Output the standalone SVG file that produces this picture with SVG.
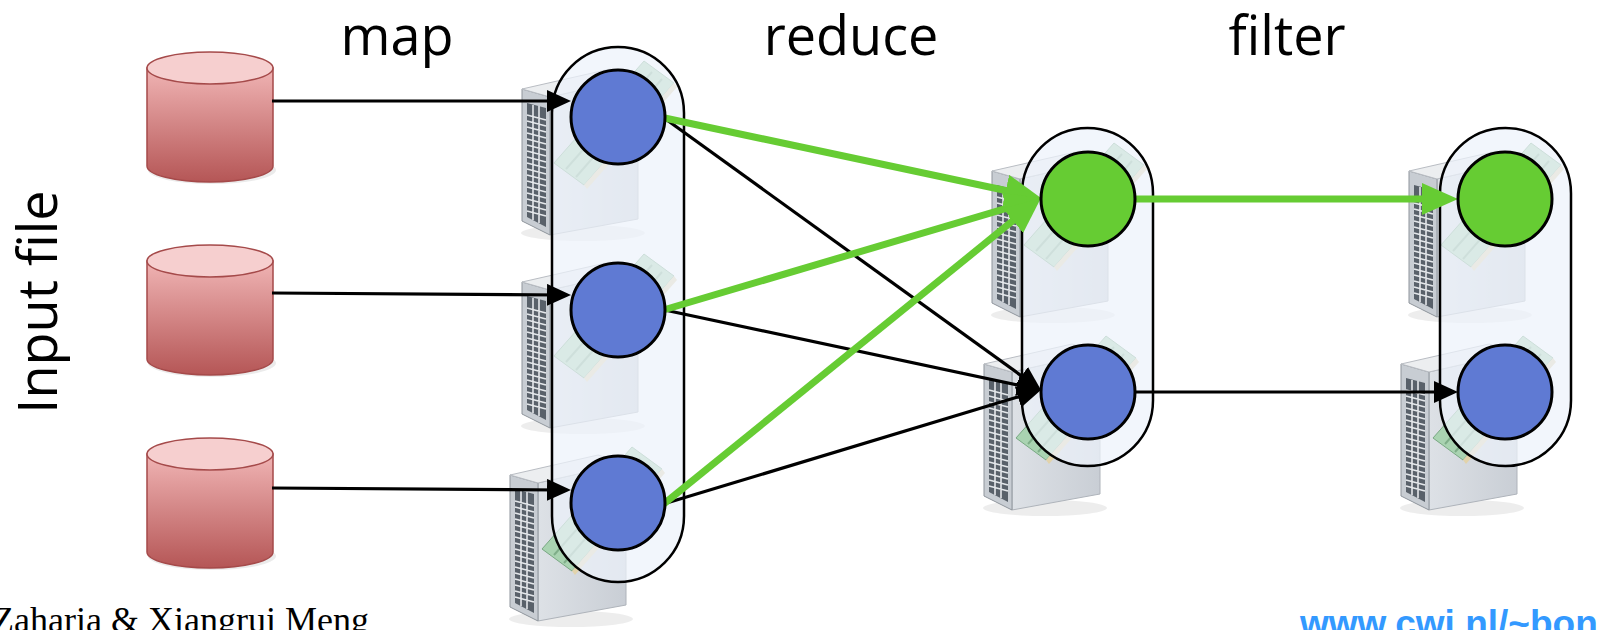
<svg xmlns="http://www.w3.org/2000/svg" xmlns:xlink="http://www.w3.org/1999/xlink" width="1602" height="630" viewBox="0 0 1602 630">
<style>
.lbl{font-family:"Open Sans","Liberation Sans",sans-serif;font-size:54px;fill:#000}
.cont{fill:#edf3fb;fill-opacity:0.72;stroke:#000;stroke-width:2.5}
.blue{fill:#5f7ad3;stroke:#000;stroke-width:3}
.green{fill:#66cc33;stroke:#000;stroke-width:3}
.bl{stroke:#000;stroke-width:3.2;fill:none;marker-end:url(#ab)}
.gl{stroke:#66cc33;stroke-width:7;fill:none;marker-end:url(#ag)}
.cylb{fill:url(#gCyl);stroke:#a54a4a;stroke-width:1.5}
.cylt{fill:#f6cfcf;stroke:#a54a4a;stroke-width:1.5}
</style>
<defs>
<linearGradient id="gCyl" x1="0" y1="0" x2="0" y2="1">
<stop offset="0" stop-color="#f0b4b4"/><stop offset="1" stop-color="#b55656"/>
</linearGradient>
<linearGradient id="gSide" x1="0" y1="0" x2="1" y2="0">
<stop offset="0" stop-color="#dde1e6"/><stop offset="1" stop-color="#c9ced5"/>
</linearGradient>
<marker id="ab" markerUnits="userSpaceOnUse" markerWidth="24" markerHeight="22" refX="14" refY="11" orient="auto"><path d="M0,0L24,11L0,22Z" fill="#000"/></marker>
<marker id="ag" markerUnits="userSpaceOnUse" markerWidth="36" markerHeight="32" refX="22" refY="16" orient="auto"><path d="M0,0L36,16L0,32Z" fill="#66cc33"/></marker>
<g id="srv">
<ellipse cx="-35" cy="116" rx="62" ry="8" fill="#000" opacity="0.07"/>
<polygon points="-68,-20 20,-40 20,102 -68,118" fill="url(#gSide)" stroke="#aeb3ba" stroke-width="1"/>
<polygon points="-96,-28 -68,-20 -68,118 -96,104" fill="#c8cdd3" stroke="#8f959c" stroke-width="1"/>
<polygon points="-91,-14 -72,-9 -72,110 -91,100" fill="#59616a"/>
<path d="M-91,-2l19,5M-91,4l19,5M-91,10l19,5M-91,16l19,5M-91,22l19,5M-91,28l19,5M-91,34l19,5M-91,40l19,5M-91,46l19,5M-91,52l19,5M-91,58l19,5M-91,64l19,5M-91,70l19,5M-91,76l19,5M-91,82l19,5M-91,88l19,5M-91,94l19,5M-85,-12V103M-79,-11V106" stroke="#e4e7ea" stroke-width="1.6" fill="none"/>
<polygon points="-96,-28 -8,-48 20,-40 -68,-20" fill="#eceef0" stroke="#b9bdc3" stroke-width="1"/>
<polygon points="-64,46 26,-56 56,-34 -34,68" fill="#a9d3b1" stroke="#79a883" stroke-width="1"/>
<path d="M-52,52 L34,-45 M-42,60 L44,-38" stroke="#7fae89" stroke-width="2" fill="none"/>
<polygon points="-34,68 56,-34 59,-30 -31,72" fill="#e2d3ab"/>
</g>
</defs>
<rect width="1602" height="630" fill="#fff"/>

<g id="input-label"><text class="lbl" transform="translate(57,302) rotate(-90)" text-anchor="middle">Input file</text></g>
<g id="labels">
<text class="lbl" x="397" y="55" text-anchor="middle">map</text>
<text class="lbl" x="851" y="55" text-anchor="middle">reduce</text>
<text class="lbl" x="1287" y="55" text-anchor="middle">filter</text>
</g>

<g id="cyl1">
<ellipse cx="212" cy="170" rx="64" ry="14" fill="#000" opacity="0.08"/>
<path class="cylb" d="M147,68V166A63,16 0 0 0 273,166V68Z"/>
<ellipse class="cylt" cx="210" cy="68" rx="63" ry="16"/>
</g>
<g id="cyl2">
<ellipse cx="212" cy="363" rx="64" ry="14" fill="#000" opacity="0.08"/>
<path class="cylb" d="M147,261V359A63,16 0 0 0 273,359V261Z"/>
<ellipse class="cylt" cx="210" cy="261" rx="63" ry="16"/>
</g>
<g id="cyl3">
<ellipse cx="212" cy="556" rx="64" ry="14" fill="#000" opacity="0.08"/>
<path class="cylb" d="M147,454V552A63,16 0 0 0 273,552V454Z"/>
<ellipse class="cylt" cx="210" cy="454" rx="63" ry="16"/>
</g>

<g id="servers">
<use xlink:href="#srv" href="#srv" transform="translate(618,117)"/>
<use xlink:href="#srv" href="#srv" transform="translate(618,310)"/>
<use xlink:href="#srv" href="#srv" transform="translate(606,503)"/>
<use xlink:href="#srv" href="#srv" transform="translate(1088,199)"/>
<use xlink:href="#srv" href="#srv" transform="translate(1080,392)"/>
<use xlink:href="#srv" href="#srv" transform="translate(1505,199)"/>
<use xlink:href="#srv" href="#srv" transform="translate(1497,392)"/>
</g>

<g id="map-group"><rect class="cont" x="552" y="47" width="132" height="535" rx="66"/></g>
<g id="reduce-group"><rect class="cont" x="1022" y="128" width="131" height="338" rx="65.5"/></g>
<g id="filter-group"><rect class="cont" x="1440" y="128" width="131" height="338" rx="65.5"/></g>

<g id="connectors">
<line class="bl" x1="272" y1="101" x2="561" y2="101"/>
<line class="bl" x1="272" y1="293" x2="561" y2="295"/>
<line class="bl" x1="272" y1="488" x2="561" y2="490"/>
<line class="bl" x1="660" y1="115" x2="1032.9" y2="384.1"/>
<line class="bl" x1="660" y1="309" x2="1031.2" y2="387.9"/>
<line class="bl" x1="660" y1="505" x2="1031.4" y2="392.9"/>
<line class="bl" x1="1130" y1="392" x2="1448" y2="392"/>
<line class="gl" x1="660" y1="117" x2="1027.3" y2="195.1"/>
<line class="gl" x1="660" y1="311" x2="1027.6" y2="202"/>
<line class="gl" x1="660" y1="507" x2="1030.1" y2="206.8"/>
<line class="gl" x1="1130" y1="199" x2="1444" y2="199"/>
</g>

<g id="map1"><circle class="blue" cx="618" cy="117" r="47"/></g>
<g id="map2"><circle class="blue" cx="618" cy="310" r="47"/></g>
<g id="map3"><circle class="blue" cx="618" cy="503" r="47"/></g>
<g id="reduce1"><circle class="green" cx="1088" cy="199" r="47"/></g>
<g id="reduce2"><circle class="blue" cx="1088" cy="392" r="47"/></g>
<g id="filter1"><circle class="green" cx="1505" cy="199" r="47"/></g>
<g id="filter2"><circle class="blue" cx="1505" cy="392" r="47"/></g>

<g id="footer">
<text x="-8" y="632" font-family="'Liberation Serif',serif" font-size="36" fill="#000">Zaharia &amp; Xiangrui Meng</text>
<text x="1300" y="636" font-family="'Liberation Sans',Arial,sans-serif" font-size="37" font-weight="bold" fill="#3399ff">www.cwi.nl/~bon</text>
</g>
</svg>
